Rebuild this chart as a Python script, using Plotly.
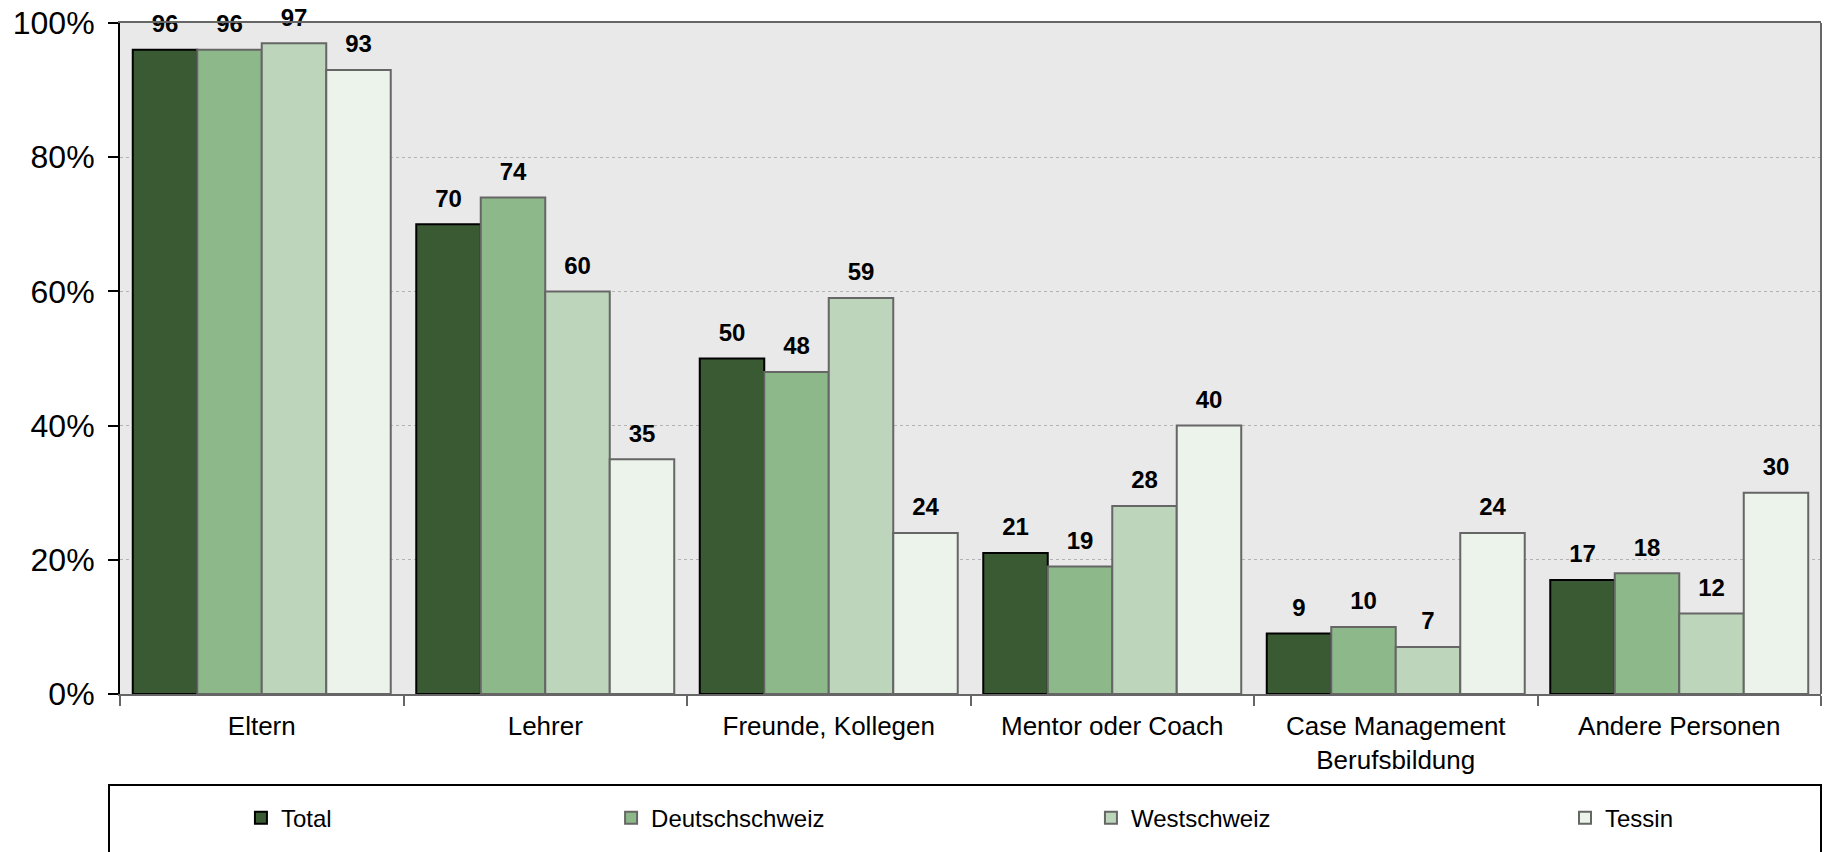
import plotly.graph_objects as go

categories = ["Eltern", "Lehrer", "Freunde, Kollegen", "Mentor oder Coach",
              "Case Management<br>Berufsbildung", "Andere Personen"]
series_names = ["Total", "Deutschschweiz", "Westschweiz", "Tessin"]
total = [96, 70, 50, 21, 9, 17]
deutschschweiz = [96, 74, 48, 19, 10, 18]
westschweiz = [97, 60, 59, 28, 7, 12]
tessin = [93, 35, 24, 40, 24, 30]
y_tick_values = [0, 20, 40, 60, 80, 100]
y_tick_labels = ["0%", "20%", "40%", "60%", "80%", "100%"]

series_values = [total, deutschschweiz, westschweiz, tessin]
fill_colors = ["#3a5a33", "#8db889", "#bdd6bb", "#ebf3ea"]
line_colors = ["#000000", "#666666", "#666666", "#666666"]
legend_ids = ["legend", "legend2", "legend3", "legend4"]
legend_x = [0.0711, 0.2887, 0.5708, 0.8495]

FONT = "Arial, Liberation Sans, sans-serif"

fig = go.Figure()
for i, (name, vals) in enumerate(zip(series_names, series_values)):
    fig.add_trace(go.Bar(
        x=categories, y=vals, name=name, offsetgroup=str(i),
        marker=dict(color=fill_colors[i], line=dict(color=line_colors[i], width=2)),
        legend=legend_ids[i], hoverinfo="skip",
    ))
for i, (name, vals) in enumerate(zip(series_names, series_values)):
    fig.add_trace(go.Scatter(
        x=categories, y=vals, mode="markers+text", text=[str(v) for v in vals],
        textposition="top center", offsetgroup=str(i),
        marker=dict(size=17, opacity=0),
        textfont=dict(family=FONT, size=24, color="#000000", weight="bold"),
        showlegend=False, cliponaxis=False, hoverinfo="skip",
    ))

fig.update_layout(
    width=1825, height=852,
    margin=dict(l=120, r=4, t=23, b=158, autoexpand=False),
    paper_bgcolor="#ffffff", plot_bgcolor="#e9e9e9",
    barmode="group", bargap=0.09, bargroupgap=0,
    scattermode="group", scattergap=0.09,
    font=dict(family=FONT, color="#000000"),
    xaxis=dict(
        showline=True, linecolor="#666666", linewidth=2, mirror=True,
        ticks="outside", tickson="boundaries", ticklen=10, tickwidth=2, tickcolor="#666666",
        tickfont=dict(size=26, family=FONT, color="#000000"), showgrid=False,
        ticklabelstandoff=8, automargin=False,
    ),
    yaxis=dict(
        range=[0, 100], tickvals=y_tick_values, ticktext=y_tick_labels,
        showline=True, linecolor="#000000", linewidth=2,
        ticks="outside", ticklen=10, tickwidth=2, tickcolor="#000000",
        tickfont=dict(size=32, family=FONT, color="#000000"),
        showgrid=True, gridcolor="#b3b3b3", griddash="dot", gridwidth=1,
        zeroline=False, ticklabelstandoff=7, ticklabeloverflow="allow",
        automargin=False,
    ),
    shapes=[
        dict(type="line", xref="paper", yref="paper", x0=1, x1=1, y0=0, y1=1,
             line=dict(color="#666666", width=2)),
        dict(type="rect", xref="paper", yref="paper", x0=-0.00647, x1=1.0,
             y0=-0.1356, y1=-0.26, line=dict(color="#000000", width=2)),
    ],
)
for i, lid in enumerate(legend_ids):
    fig.update_layout({lid: dict(
        x=legend_x[i], xanchor="left", y=-0.185, yanchor="middle",
        orientation="h", bgcolor="rgba(0,0,0,0)", borderwidth=0,
        font=dict(family=FONT, size=24, color="#000000"),
    )})

fig.write_html("out.html", config={"displayModeBar": False},
               post_script="document.body.style.margin='0px';")
